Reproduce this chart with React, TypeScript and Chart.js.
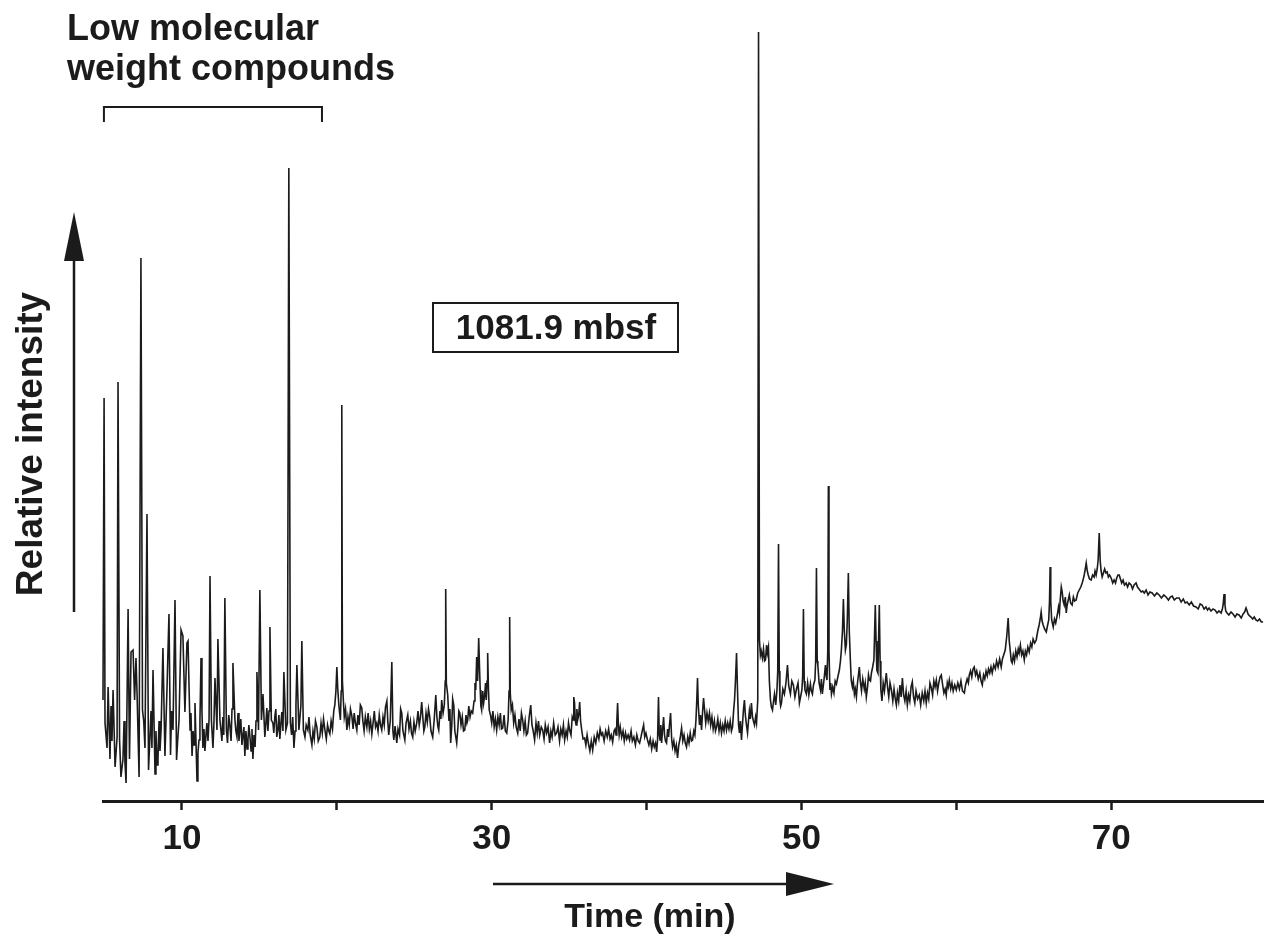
import React, { useEffect, useRef } from "react";
import { Chart, registerables } from "chart.js";

Chart.register(...registerables);

// [retention time (min), detector response (arbitrary units)]
// 5–18 min: low molecular weight compounds
const SEG_EARLY: [number, number][] = [
  [4.90, 101], [4.97, 403], [5.03, 78], [5.16, 53], [5.23, 114], [5.35, 42], [5.42, 95], [5.48, 60],
  [5.55, 111], [5.68, 34], [5.81, 64], [5.87, 419], [5.97, 61], [6.06, 24], [6.19, 42], [6.26, 80],
  [6.32, 38], [6.39, 18], [6.52, 192], [6.61, 42], [6.71, 149], [6.84, 151], [6.94, 101], [7.03, 143],
  [7.10, 107], [7.23, 24], [7.35, 543], [7.45, 91], [7.53, 80], [7.61, 53], [7.74, 287], [7.84, 31],
  [7.92, 60], [8.00, 90], [8.06, 53], [8.13, 131], [8.26, 27], [8.32, 70], [8.39, 36], [8.45, 42],
  [8.52, 80], [8.58, 50], [8.65, 71], [8.77, 153], [8.90, 45], [9.03, 111], [9.16, 187], [9.26, 46],
  [9.33, 90], [9.42, 71], [9.55, 201], [9.65, 41], [9.72, 60], [9.81, 81], [9.94, 171], [10.06, 165],
  [10.19, 89], [10.32, 158], [10.39, 160], [10.52, 71], [10.58, 88], [10.65, 45], [10.72, 70], [10.78, 56],
  [10.84, 98], [10.90, 62], [10.97, 20], [11.03, 48], [11.10, 61], [11.16, 80], [11.23, 143], [11.29, 90],
  [11.35, 53], [11.42, 72], [11.48, 50], [11.55, 66], [11.61, 78], [11.68, 60], [11.75, 82], [11.81, 225],
  [11.90, 81], [12.00, 53], [12.06, 76], [12.13, 123], [12.26, 71], [12.32, 162], [12.45, 81], [12.52, 70],
  [12.58, 60], [12.64, 84], [12.70, 66], [12.77, 203], [12.87, 71], [12.94, 58], [13.02, 86], [13.10, 74],
  [13.17, 60], [13.23, 92], [13.29, 138], [13.42, 81], [13.48, 70], [13.55, 64], [13.62, 88], [13.68, 60],
  [13.74, 71], [13.80, 82], [13.87, 56], [13.94, 66], [14.00, 74], [14.06, 45], [14.13, 70], [14.20, 52],
  [14.26, 61], [14.32, 76], [14.39, 64], [14.46, 50], [14.52, 72], [14.58, 42], [14.65, 66], [14.72, 54],
  [14.78, 80], [14.84, 129], [14.94, 71], [15.03, 211], [15.13, 81], [15.23, 107], [15.35, 64], [15.42, 78],
  [15.48, 93], [15.55, 70], [15.62, 90], [15.68, 174], [15.77, 81], [15.87, 78], [15.93, 68], [16.00, 85],
  [16.06, 92], [16.12, 64], [16.19, 71], [16.26, 86], [16.32, 62], [16.39, 78], [16.45, 89], [16.52, 70],
  [16.58, 129], [16.71, 71], [16.81, 78], [16.90, 633], [17.00, 78], [17.08, 66], [17.15, 84], [17.23, 53],
  [17.30, 70], [17.36, 96], [17.42, 136], [17.55, 71], [17.62, 84], [17.68, 96], [17.74, 160], [17.84, 71],
  [17.94, 64],
];

// 18–35 min
const SEG_MID: [number, number][] = [
  [18.02, 76], [18.13, 71], [18.20, 84], [18.28, 66], [18.39, 56], [18.46, 70], [18.54, 62], [18.62, 80],
  [18.71, 74], [18.80, 60], [18.90, 64], [18.98, 78], [19.06, 68], [19.14, 82], [19.23, 71], [19.32, 62],
  [19.40, 76], [19.48, 70], [19.55, 67], [19.63, 80], [19.72, 72], [19.80, 90], [19.87, 96], [19.94, 110],
  [20.00, 134], [20.06, 112], [20.13, 96], [20.18, 88], [20.23, 81], [20.28, 110], [20.32, 396], [20.36, 120],
  [20.42, 101], [20.48, 84], [20.56, 92], [20.65, 71], [20.72, 84], [20.80, 76], [20.88, 92], [20.97, 85],
  [21.05, 72], [21.12, 88], [21.20, 78], [21.29, 71], [21.36, 86], [21.44, 76], [21.52, 96], [21.61, 93],
  [21.68, 80], [21.76, 70], [21.84, 84], [21.94, 74], [22.02, 88], [22.10, 72], [22.18, 80], [22.26, 67],
  [22.34, 78], [22.42, 90], [22.50, 74], [22.58, 78], [22.66, 70], [22.74, 86], [22.82, 76], [22.90, 71],
  [22.98, 84], [23.06, 76], [23.14, 94], [23.23, 100], [23.29, 80], [23.35, 66], [23.45, 80], [23.55, 139],
  [23.62, 70], [23.68, 61], [23.76, 75], [23.87, 58], [23.95, 72], [24.05, 66], [24.12, 92], [24.19, 88],
  [24.27, 70], [24.39, 61], [24.47, 78], [24.58, 86], [24.66, 72], [24.75, 80], [24.82, 68], [24.90, 64],
  [24.98, 79], [25.06, 70], [25.16, 78], [25.24, 90], [25.32, 76], [25.40, 84], [25.48, 99], [25.56, 82],
  [25.62, 70], [25.68, 74], [25.76, 88], [25.84, 79], [25.92, 92], [26.00, 84], [26.08, 70], [26.19, 64],
  [26.28, 80], [26.39, 106], [26.46, 84], [26.52, 75], [26.58, 71], [26.66, 90], [26.72, 82], [26.77, 101],
  [26.86, 88], [26.94, 96], [27.00, 120], [27.03, 212], [27.07, 118], [27.16, 106], [27.24, 80], [27.30, 92],
  [27.35, 58], [27.42, 75], [27.48, 102], [27.55, 96], [27.62, 70], [27.68, 64], [27.74, 58], [27.82, 74],
  [27.88, 90], [27.94, 88], [28.02, 76], [28.10, 84], [28.18, 70], [28.26, 71], [28.34, 86], [28.40, 78],
  [28.45, 81], [28.52, 95], [28.60, 84], [28.68, 90], [28.77, 88], [28.86, 100], [28.92, 118], [28.97, 111],
  [29.03, 144], [29.09, 120], [29.16, 163], [29.22, 130], [29.26, 111], [29.30, 95], [29.35, 91], [29.42, 110],
  [29.48, 98], [29.55, 106], [29.60, 118], [29.65, 101], [29.70, 120], [29.74, 148], [29.79, 112], [29.84, 91],
  [29.92, 86], [30.00, 78], [30.08, 90], [30.16, 74], [30.24, 82], [30.32, 71], [30.40, 84], [30.48, 76],
  [30.56, 88], [30.63, 72], [30.71, 73], [30.80, 86], [30.88, 70], [30.97, 68], [31.06, 81], [31.12, 110],
  [31.16, 184], [31.20, 108], [31.26, 91], [31.34, 96], [31.42, 78], [31.50, 86], [31.58, 74], [31.68, 68],
  [31.76, 82], [31.84, 70], [31.92, 88], [32.00, 81], [32.08, 70], [32.16, 80], [32.24, 66], [32.32, 68],
  [32.42, 84], [32.52, 96], [32.60, 76], [32.68, 70], [32.77, 61], [32.86, 78], [32.94, 68], [33.02, 80],
  [33.10, 66], [33.20, 74], [33.29, 71], [33.38, 62], [33.46, 76], [33.55, 68], [33.64, 74], [33.74, 58],
  [33.82, 70], [33.90, 64], [34.00, 78], [34.10, 66], [34.19, 68], [34.28, 74], [34.38, 60], [34.46, 72],
  [34.55, 66], [34.63, 76], [34.71, 61], [34.80, 70], [34.88, 64], [34.96, 78],
];

// 35–50 min, including the dominant peak near 47 min
const SEG_LATE: [number, number][] = [
  [35.03, 71], [35.12, 66], [35.20, 84], [35.26, 81], [35.30, 104], [35.35, 98], [35.40, 80], [35.45, 76],
  [35.50, 92], [35.55, 81], [35.62, 86], [35.68, 99], [35.74, 80], [35.82, 70], [35.90, 62], [36.00, 63],
  [36.08, 56], [36.16, 66], [36.24, 58], [36.34, 50], [36.43, 60], [36.52, 51], [36.62, 64], [36.72, 58],
  [36.82, 68], [36.92, 62], [37.00, 72], [37.08, 66], [37.16, 68], [37.26, 60], [37.36, 70], [37.46, 64],
  [37.55, 72], [37.64, 62], [37.72, 66], [37.81, 59], [37.90, 70], [37.97, 72], [38.03, 66], [38.08, 80],
  [38.13, 98], [38.18, 76], [38.23, 66], [38.30, 74], [38.39, 64], [38.48, 70], [38.56, 60], [38.64, 68],
  [38.72, 62], [38.81, 66], [38.90, 61], [39.00, 70], [39.08, 60], [39.18, 64], [39.28, 56], [39.37, 66],
  [39.46, 60], [39.55, 58], [39.64, 64], [39.72, 70], [39.81, 76], [39.88, 64], [39.96, 68], [40.06, 61],
  [40.15, 56], [40.24, 62], [40.33, 52], [40.42, 60], [40.50, 54], [40.58, 58], [40.65, 49], [40.71, 61],
  [40.77, 104], [40.82, 66], [40.87, 61], [40.92, 76], [40.97, 58], [41.03, 70], [41.10, 84], [41.16, 66],
  [41.22, 60], [41.29, 58], [41.36, 72], [41.42, 64], [41.48, 76], [41.55, 88], [41.62, 62], [41.68, 54],
  [41.76, 60], [41.84, 50], [41.92, 56], [42.00, 43], [42.08, 56], [42.16, 62], [42.26, 73], [42.34, 60],
  [42.42, 66], [42.50, 58], [42.58, 54], [42.66, 64], [42.74, 58], [42.82, 68], [42.90, 60], [42.97, 61],
  [43.05, 70], [43.12, 66], [43.19, 81], [43.24, 100], [43.29, 123], [43.34, 96], [43.42, 76], [43.48, 86],
  [43.55, 71], [43.62, 90], [43.68, 103], [43.74, 92], [43.82, 78], [43.90, 88], [43.98, 80], [44.06, 88],
  [44.14, 76], [44.22, 84], [44.30, 72], [44.38, 80], [44.45, 70], [44.52, 74], [44.60, 82], [44.68, 70],
  [44.76, 78], [44.84, 68], [44.92, 76], [45.00, 70], [45.08, 80], [45.16, 71], [45.24, 78], [45.32, 72],
  [45.40, 80], [45.48, 70], [45.55, 74], [45.62, 90], [45.68, 101], [45.74, 120], [45.81, 148], [45.87, 112],
  [45.94, 76], [46.00, 68], [46.06, 80], [46.13, 61], [46.20, 78], [46.26, 92], [46.32, 101], [46.38, 86],
  [46.45, 76], [46.52, 68], [46.58, 80], [46.64, 90], [46.70, 82], [46.77, 98], [46.84, 84], [46.90, 80],
  [46.97, 76], [47.04, 84], [47.10, 78], [47.18, 101], [47.23, 769], [47.29, 161], [47.35, 146], [47.40, 150],
  [47.48, 143], [47.55, 152], [47.62, 140], [47.68, 141], [47.75, 156], [47.80, 148], [47.87, 154], [47.93, 120],
  [48.00, 101], [48.06, 94], [48.13, 91], [48.20, 100], [48.26, 107], [48.34, 96], [48.42, 111], [48.47, 130],
  [48.52, 257], [48.57, 130], [48.61, 101], [48.66, 95], [48.71, 98], [48.80, 112], [48.90, 107], [49.00, 118],
  [49.10, 136], [49.18, 115], [49.29, 107], [49.38, 120], [49.48, 116], [49.58, 104], [49.68, 112], [49.78, 118],
  [49.87, 98],
];

// 50–80 min, with the unresolved complex mixture hump
const SEG_HUMP: [number, number][] = [
  [50.03, 111], [50.08, 125], [50.13, 192], [50.18, 120], [50.23, 111], [50.32, 107], [50.40, 118], [50.48, 106],
  [50.58, 117], [50.64, 110], [50.71, 107], [50.78, 116], [50.87, 121], [50.92, 140], [50.97, 233], [51.02, 140],
  [51.06, 136], [51.14, 118], [51.23, 111], [51.29, 122], [51.35, 107], [51.45, 120], [51.55, 136], [51.60, 125],
  [51.65, 121], [51.70, 150], [51.74, 315], [51.78, 150], [51.84, 111], [51.89, 118], [51.94, 107], [52.02, 114],
  [52.10, 108], [52.18, 120], [52.26, 117], [52.35, 124], [52.45, 131], [52.52, 140], [52.58, 151], [52.65, 170],
  [52.71, 202], [52.77, 170], [52.84, 151], [52.90, 156], [52.96, 180], [53.03, 228], [53.09, 170], [53.16, 141],
  [53.22, 120], [53.29, 114], [53.35, 120], [53.42, 107], [53.48, 112], [53.55, 104], [53.62, 118], [53.68, 126],
  [53.74, 134], [53.80, 120], [53.88, 110], [53.96, 122], [54.06, 112], [54.12, 118], [54.19, 104], [54.27, 114],
  [54.33, 126], [54.39, 121], [54.46, 120], [54.52, 128], [54.60, 134], [54.68, 141], [54.72, 165], [54.77, 196],
  [54.82, 160], [54.87, 131], [54.94, 128], [54.98, 160], [55.03, 196], [55.08, 140], [55.13, 111], [55.20, 100],
  [55.28, 118], [55.36, 110], [55.48, 128], [55.56, 114], [55.64, 104], [55.72, 118], [55.81, 111], [55.90, 100],
  [55.98, 112], [56.06, 102], [56.13, 96], [56.20, 108], [56.28, 100], [56.36, 116], [56.44, 104], [56.52, 123],
  [56.60, 106], [56.68, 100], [56.76, 110], [56.84, 96], [56.92, 106], [57.00, 100], [57.08, 114], [57.16, 119],
  [57.24, 104], [57.32, 98], [57.40, 110], [57.50, 102], [57.61, 106], [57.70, 96], [57.80, 108], [57.90, 100],
  [57.98, 110], [58.06, 98], [58.14, 108], [58.22, 102], [58.30, 118], [58.39, 113], [58.47, 106], [58.55, 120],
  [58.63, 114], [58.71, 121], [58.79, 110], [58.87, 118], [58.95, 124], [59.03, 126], [59.12, 116], [59.20, 108],
  [59.28, 112], [59.35, 106], [59.42, 118], [59.48, 114], [59.55, 121], [59.64, 112], [59.72, 118], [59.80, 110],
  [59.90, 116], [60.00, 111], [60.10, 118], [60.20, 112], [60.30, 120], [60.40, 110], [60.52, 108], [60.60, 116],
  [60.70, 122], [60.78, 118], [60.84, 126], [60.92, 130], [61.00, 124], [61.08, 132], [61.16, 134], [61.24, 126],
  [61.32, 130], [61.42, 122], [61.52, 128], [61.60, 120], [61.68, 116], [61.76, 126], [61.84, 122], [61.92, 130],
  [62.00, 125], [62.08, 132], [62.16, 128], [62.24, 134], [62.32, 128], [62.42, 136], [62.52, 132], [62.60, 140],
  [62.70, 134], [62.80, 142], [62.90, 134], [62.98, 142], [63.06, 146], [63.16, 151], [63.26, 165], [63.35, 183],
  [63.42, 160], [63.48, 151], [63.55, 140], [63.61, 138], [63.68, 146], [63.76, 140], [63.84, 150], [63.92, 144],
  [64.00, 152], [64.06, 148], [64.14, 156], [64.22, 146], [64.30, 150], [64.39, 141], [64.46, 150], [64.54, 146],
  [64.62, 154], [64.71, 149], [64.80, 158], [64.88, 154], [64.96, 162], [65.06, 158], [65.16, 161], [65.26, 170],
  [65.35, 176], [65.42, 182], [65.48, 189], [65.54, 180], [65.61, 176], [65.70, 172], [65.81, 169], [65.90, 176],
  [65.97, 181], [66.02, 200], [66.06, 234], [66.10, 200], [66.16, 181], [66.26, 174], [66.34, 182], [66.42, 178],
  [66.52, 186], [66.60, 194], [66.66, 188], [66.71, 201], [66.78, 214], [66.84, 209], [66.90, 200], [66.97, 196],
  [67.04, 204], [67.10, 188], [67.16, 196], [67.23, 201], [67.30, 206], [67.38, 198], [67.48, 196], [67.56, 204],
  [67.64, 200], [67.74, 201], [67.84, 208], [67.94, 211], [68.04, 214], [68.13, 218], [68.20, 222], [68.26, 226],
  [68.33, 232], [68.39, 238], [68.46, 230], [68.52, 226], [68.60, 222], [68.71, 221], [68.80, 226], [68.90, 224],
  [68.96, 230], [69.03, 226], [69.10, 232], [69.16, 241], [69.23, 268], [69.29, 241], [69.35, 230], [69.42, 224],
  [69.50, 228], [69.58, 232], [69.66, 228], [69.74, 229], [69.82, 224], [69.90, 226], [70.00, 223], [70.10, 218],
  [70.19, 221], [70.28, 218], [70.36, 223], [70.44, 226], [70.52, 226], [70.60, 222], [70.68, 218], [70.77, 221],
  [70.86, 216], [70.97, 218], [71.06, 214], [71.16, 218], [71.29, 216], [71.38, 212], [71.48, 216], [71.61, 218],
  [71.70, 214], [71.80, 212], [71.94, 209], [72.04, 210], [72.14, 208], [72.26, 211], [72.38, 206], [72.50, 209],
  [72.65, 208], [72.80, 205], [72.95, 208], [73.10, 206], [73.25, 203], [73.40, 206], [73.55, 204], [73.70, 201],
  [73.82, 204], [73.94, 205], [74.08, 201], [74.22, 203], [74.39, 203], [74.52, 199], [74.66, 202], [74.78, 198],
  [74.90, 199], [75.04, 196], [75.18, 199], [75.32, 195], [75.48, 194], [75.62, 192], [75.75, 197], [75.87, 196],
  [76.00, 192], [76.12, 194], [76.22, 191], [76.32, 193], [76.45, 190], [76.58, 192], [76.71, 191], [76.84, 188],
  [76.96, 190], [77.10, 188], [77.18, 192], [77.23, 196], [77.29, 207], [77.35, 196], [77.40, 190], [77.48, 188],
  [77.60, 186], [77.74, 189], [77.87, 187], [78.00, 184], [78.12, 187], [78.26, 186], [78.40, 183], [78.52, 187],
  [78.62, 189], [78.71, 193], [78.78, 190], [78.84, 187], [78.94, 185], [79.03, 184], [79.14, 182], [79.24, 184],
  [79.35, 181], [79.46, 180], [79.58, 182], [79.70, 179], [79.81, 179],
];

const TICK_LABELS = ["10", "30", "50", "70"];
const SAMPLE_LABEL = "1081.9 mbsf";
const TITLE_LINES = ["Low molecular", "weight compounds"];
const LOW_MW_RANGE = [4.96, 19.04];
const X_MIN = 4.9;
const X_MAX = 79.87;
const Y_MAX = 781;

const FONT = '"Liberation Sans", Arial, Helvetica, sans-serif';
const INK = "#1b1b1b";

function toPoints(seg: [number, number][]) {
  return seg.map(([t, v]) => ({ x: t, y: v }));
}

const annotationPlugin = {
  id: "chromAnnotations",
  afterDraw(chart: any) {
    const ctx = chart.ctx as CanvasRenderingContext2D;
    const xs = chart.scales.x;
    ctx.save();
    ctx.fillStyle = INK;
    ctx.strokeStyle = INK;

    // Title text
    ctx.font = `bold 36px ${FONT}`;
    ctx.textAlign = "left";
    ctx.textBaseline = "alphabetic";
    ctx.fillText(TITLE_LINES[0], 67, 40);
    ctx.fillText(TITLE_LINES[1], 67, 80);

    // Bracket over low molecular weight region
    const bx0 = xs.getPixelForValue(LOW_MW_RANGE[0]);
    const bx1 = xs.getPixelForValue(LOW_MW_RANGE[1]);
    ctx.lineWidth = 2;
    ctx.beginPath();
    ctx.moveTo(bx0, 122);
    ctx.lineTo(bx0, 107);
    ctx.lineTo(bx1, 107);
    ctx.lineTo(bx1, 122);
    ctx.stroke();

    // Sample depth box
    ctx.lineWidth = 2;
    ctx.strokeRect(433, 303, 245, 49);
    ctx.font = `bold 35px ${FONT}`;
    ctx.textAlign = "center";
    ctx.textBaseline = "alphabetic";
    ctx.fillText(SAMPLE_LABEL, 556, 339);

    // Vertical arrow (relative intensity)
    ctx.lineWidth = 2.5;
    ctx.beginPath();
    ctx.moveTo(74, 612);
    ctx.lineTo(74, 255);
    ctx.stroke();
    ctx.beginPath();
    ctx.moveTo(74, 212);
    ctx.lineTo(64, 261);
    ctx.lineTo(84, 261);
    ctx.closePath();
    ctx.fill();

    // Rotated y label
    ctx.save();
    ctx.translate(42, 444);
    ctx.rotate(-Math.PI / 2);
    ctx.font = `bold 37px ${FONT}`;
    ctx.textAlign = "center";
    ctx.textBaseline = "alphabetic";
    ctx.fillText("Relative intensity", 0, 0);
    ctx.restore();

    // Horizontal arrow (time)
    ctx.lineWidth = 2.5;
    ctx.beginPath();
    ctx.moveTo(493, 884);
    ctx.lineTo(790, 884);
    ctx.stroke();
    ctx.beginPath();
    ctx.moveTo(834, 884);
    ctx.lineTo(786, 872);
    ctx.lineTo(786, 896);
    ctx.closePath();
    ctx.fill();

    ctx.font = `bold 34px ${FONT}`;
    ctx.textAlign = "center";
    ctx.textBaseline = "alphabetic";
    ctx.fillText("Time (min)", 650, 927);

    ctx.restore();
  },
};

export default function App() {
  const canvasRef = useRef<HTMLCanvasElement | null>(null);

  useEffect(() => {
    const canvas = canvasRef.current;
    if (!canvas) return;
    const data = [
      ...toPoints(SEG_EARLY),
      ...toPoints(SEG_MID),
      ...toPoints(SEG_LATE),
      ...toPoints(SEG_HUMP),
    ];
    const chart = new Chart(canvas, {
      type: "line",
      data: {
        datasets: [
          {
            data,
            borderColor: INK,
            borderWidth: 1.6,
            pointRadius: 0,
            tension: 0,
            fill: false,
            clip: false as any,
          },
        ],
      },
      options: {
        animation: false,
        responsive: false,
        maintainAspectRatio: false,
        layout: { padding: { left: 103, right: 0, top: 20, bottom: 0 } },
        plugins: {
          legend: { display: false },
          tooltip: { enabled: false },
          title: { display: false },
        },
        scales: {
          x: {
            type: "linear",
            min: X_MIN,
            max: X_MAX,
            afterFit(scale: any) {
              scale.height = 144;
            },
            border: { display: true, color: INK, width: 3 },
            grid: {
              display: true,
              drawOnChartArea: false,
              drawTicks: true,
              tickLength: 9,
              tickWidth: 2.5,
              tickColor: INK,
            },
            ticks: {
              stepSize: 10,
              includeBounds: false,
              autoSkip: false,
              maxRotation: 0,
              padding: 8,
              color: INK,
              font: { family: FONT, size: 35, weight: "bold" },
              callback(value: any) {
                const s = String(value);
                return TICK_LABELS.includes(s) ? s : "";
              },
            },
          },
          y: {
            type: "linear",
            display: false,
            min: 0,
            max: Y_MAX,
          },
        },
      },
      plugins: [annotationPlugin],
    });
    return () => chart.destroy();
  }, []);

  return (
    <div style={{ position: "fixed", left: 0, top: 0, width: 1264, height: 945, background: "#fff" }}>
      <canvas ref={canvasRef} width={1264} height={945} style={{ width: 1264, height: 945, display: "block" }} />
    </div>
  );
}
